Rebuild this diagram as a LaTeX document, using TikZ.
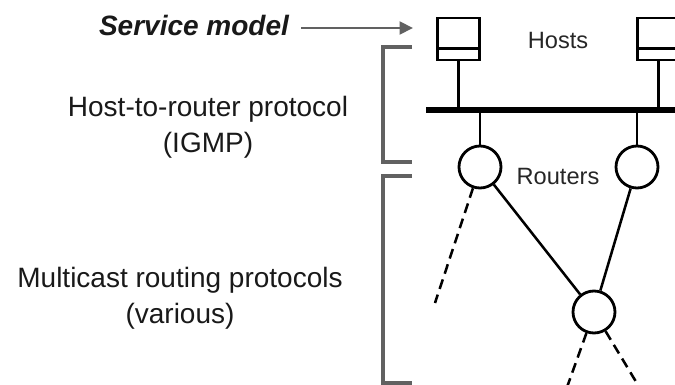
\documentclass[tikz,border=0pt]{standalone}
\usepackage{fontspec}
\setmainfont{Liberation Sans}
\usetikzlibrary{arrows.meta,calc}
\definecolor{brk}{gray}{0.38}
\begin{document}
\begin{tikzpicture}[x=0.75pt,y=-0.75pt,
  bigtext/.style={inner sep=0pt,font=\fontsize{21}{27}\selectfont,align=center,text=black!90},
  smalltext/.style={inner sep=0pt,font=\fontsize{17.7}{21}\selectfont,text=black!85},
  hostbox/.style={draw,line width=2.1pt,minimum width=31.5pt,minimum height=31.5pt,inner sep=0pt},
  router/.style={draw,circle,line width=2.1pt,minimum size=31.5pt,inner sep=0pt},
  link/.style={line width=1.9pt},
  dashlink/.style={line width=1.9pt,dash pattern=on 7.5pt off 4.5pt},
  bracket/.style={draw=brk,line width=2.6pt},
  busline/.style={line width=5pt}]
\useasboundingbox (0,0) rectangle (675,385);
\clip (0,0) rectangle (675,385);
% texts
\node[bigtext,font=\fontsize{21}{27}\selectfont\bfseries\itshape] (sm) at (194,26) {Service model};
\node[bigtext] (igmp) at (208,127) {Host-to-router protocol\\(IGMP)};
\node[bigtext] (mrp) at (180,298) {Multicast routing protocols\\(various)};
\node[smalltext] (hosts) at (558,40) {Hosts};
\node[smalltext] (routers) at (558,176) {Routers};
% arrow
\coordinate (smtip) at (413,28);
\draw[brk,line width=2.1pt,-{Triangle[length=10pt,width=9.5pt]}] ([xshift=9pt,yshift=-1.5pt]sm.east) -- (smtip);
% brackets
\coordinate (b1a) at (412,47); \coordinate (b1b) at (383,47);
\coordinate (b1c) at (383,162); \coordinate (b1d) at (412,162);
\draw[bracket] (b1a) -- (b1b) -- (b1c) -- (b1d);
\coordinate (b2a) at (412,176); \coordinate (b2b) at (383,176);
\coordinate (b2c) at (383,383); \coordinate (b2d) at (412,383);
\draw[bracket] (b2a) -- (b2b) -- (b2c) -- (b2d);
% hosts
\node[hostbox] (h1) at (458.5,39) {};
\node[hostbox] (h2) at (658.5,39) {};
\draw[line width=2.1pt] ([yshift=9.75pt]h1.south west) -- ([yshift=9.75pt]h1.south east);
\draw[line width=2.1pt] ([yshift=9.75pt]h2.south west) -- ([yshift=9.75pt]h2.south east);
% bus
\coordinate (busL) at (426,110);
\coordinate (busR) at (690,110);
\draw[busline] (busL) -- (busR);
\draw[link] (h1.south) -- (h1.south |- busL);
\draw[link] (h2.south) -- (h2.south |- busL);
% routers
\node[router] (r1) at (480,167) {};
\node[router] (r2) at (637,167) {};
\node[router] (r3) at (594,312) {};
\draw[link] (r1.north) -- (r1.north |- busL);
\draw[link] (r2.north) -- (r2.north |- busL);
\draw[link] (r1) -- (r3);
\draw[link] (r2) -- (r3);
% dashed links
\coordinate (d1) at (435,303);
\coordinate (d2) at (566,390);
\coordinate (d3) at (641,390);
\draw[dashlink] (r1) -- (d1);
\draw[dashlink] (r3) -- (d2);
\draw[dashlink] (r3) -- (d3);
\end{tikzpicture}
\end{document}
